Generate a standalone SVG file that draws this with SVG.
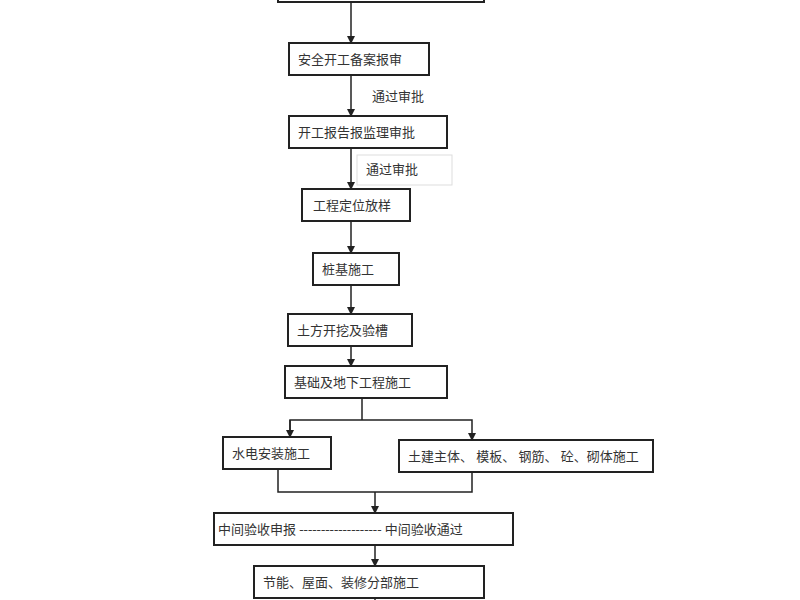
<svg xmlns="http://www.w3.org/2000/svg" width="800" height="600" viewBox="0 0 800 600">
<style>
.b{fill:#fff;stroke:#222;stroke-width:2}
.t{font-family:"Liberation Serif","Noto Sans CJK SC",serif;font-size:13px;fill:#333}
.c{fill:none;stroke:#222;stroke-width:1.5}
</style>
<defs><marker id="a" markerWidth="8" markerHeight="8" refX="7" refY="4" orient="auto" markerUnits="userSpaceOnUse"><path d="M0,0L8,4L0,8z" fill="#222"/></marker></defs>
<rect width="800" height="600" fill="#fff"/>
<g id="top"><rect class="b" x="278" y="-10" width="206" height="12"/></g>
<g id="n1"><rect class="b" x="289" y="43" width="140" height="32"/><text class="t" x="298" y="64">安全开工备案报审</text></g>
<g id="n2"><rect class="b" x="289" y="116" width="158" height="32"/><text class="t" x="298" y="137">开工报告报监理审批</text></g>
<g id="lbl2"><rect x="357" y="155" width="95" height="30" fill="none" stroke="#ddd"/><text class="t" x="366" y="174">通过审批</text></g>
<g id="n3"><rect class="b" x="302" y="189" width="108" height="32"/><text class="t" x="313" y="210">工程定位放样</text></g>
<g id="n4"><rect class="b" x="313" y="253" width="86" height="32"/><text class="t" x="322" y="274">桩基施工</text></g>
<g id="n5"><rect class="b" x="288" y="314" width="124" height="32"/><text class="t" x="297" y="335">土方开挖及验槽</text></g>
<g id="n6"><rect class="b" x="285" y="366" width="162" height="32"/><text class="t" x="294" y="387">基础及地下工程施工</text></g>
<g id="n7"><rect class="b" x="223" y="437" width="108" height="32"/><text class="t" x="232" y="458">水电安装施工</text></g>
<g id="n8"><rect class="b" x="399" y="440" width="254" height="32"/><text class="t" x="408" y="461">土建主体、 模板、 钢筋、 砼、砌体施工</text></g>
<g id="n9"><rect class="b" x="214" y="513" width="299" height="32"/><text class="t" x="218" y="534">中间验收申报   -------------------   中间验收通过</text></g>
<g id="n10"><rect class="b" x="254" y="566" width="230" height="32"/><text class="t" x="263" y="587">节能、屋面、装修分部施工</text></g>
<text class="t" x="372" y="101">通过审批</text>
<g id="connectors">
<path class="c" d="M351,2V43" marker-end="url(#a)"/>
<path class="c" d="M351,75V116" marker-end="url(#a)"/>
<path class="c" d="M351,148V189" marker-end="url(#a)"/>
<path class="c" d="M351,221V253" marker-end="url(#a)"/>
<path class="c" d="M351,285V314" marker-end="url(#a)"/>
<path class="c" d="M351,346V366" marker-end="url(#a)"/>
<path class="c" d="M362,398V420"/>
<path class="c" d="M290,437V420H472V440" marker-end="url(#a)"/>
<path class="c" d="M290,420V437" marker-end="url(#a)"/>
<path class="c" d="M278,469V492H472V472"/>
<path class="c" d="M375,492V513" marker-end="url(#a)"/>
<path class="c" d="M375,545V566" marker-end="url(#a)"/>
<path class="c" d="M375,598V600"/>
</g>
</svg>
